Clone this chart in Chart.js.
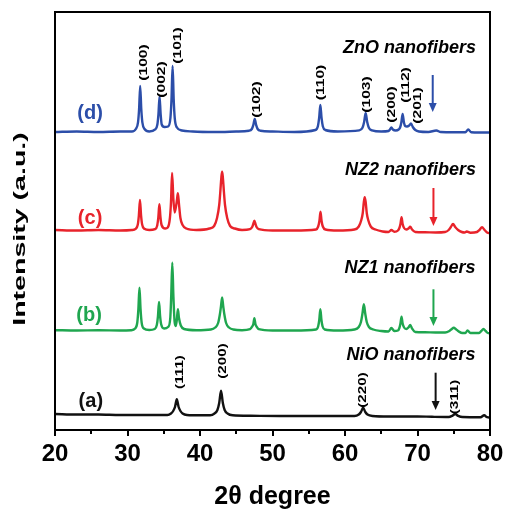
<!DOCTYPE html>
<html><head><meta charset="utf-8">
<script src="https://cdn.jsdelivr.net/npm/chart.js@4"></script>
<style>html,body{margin:0;padding:0;background:#fff}canvas{display:block}</style>
</head><body>
<canvas id="c" width="505" height="509"></canvas>
<script>
// ---- data (2θ in degrees, intensity in a.u., curves offset vertically) ----
const xTickLabels = [20, 30, 40, 50, 60, 70, 80];
const sampleNames = ['ZnO nanofibers', 'NZ2 nanofibers', 'NZ1 nanofibers', 'NiO nanofibers'];
const sampleTags = ['(d)', '(c)', '(b)', '(a)'];
const znoPoints = [[20,298],[23,298.5],[26,298],[29,298.5],[30.6,298.5],[31.15,301],[31.45,307.6],[31.6,321],[31.75,344],[31.9,321],[32.05,307.6],[32.35,301],[33.0,298.5],[33.82,300.6],[34.12,305.5],[34.27,316],[34.42,333.5],[34.57,316],[34.72,305.5],[35.1,303],[35.6,303.5],[35.92,312],[36.07,331],[36.22,364],[36.37,331],[36.52,311.6],[36.82,302.5],[37.5,299.5],[39,298.5],[42,298],[45,298.5],[46.75,299.3],[47.15,301],[47.35,304.8],[47.55,311],[47.75,304.8],[47.95,301],[48.35,299.3],[50,298.5],[53,298],[55.92,300],[56.26,303.8],[56.43,311.8],[56.6,325],[56.77,311.8],[56.94,303.8],[57.28,300],[59,298.5],[61.97,299.6],[62.41,302.2],[62.63,307.8],[62.85,317],[63.07,307.8],[63.29,302.2],[63.73,299.6],[65,298.5],[66.0,299],[66.2,300.5],[66.4,302.5],[66.6,300.5],[67.0,299.5],[67.4,300.5],[67.6,302.5],[67.77,307.5],[67.95,316],[68.13,307.5],[68.3,304],[68.55,303.5],[68.85,304.5],[69.1,306.5],[69.35,303],[69.7,300],[70.2,298.5],[71.5,298],[72.6,299.5],[73.2,298],[75,297.8],[76.6,297.8],[77.0,300.5],[77.4,297.8],[78.5,297.5],[80,297.5]];
const nz2Points = [[20,200],[23,199.5],[26,200],[29,199.5],[30.6,200],[31.12,201.2],[31.42,205.5],[31.57,214.7],[31.72,230],[31.87,214.7],[32.02,205.5],[32.32,201.2],[33.0,200],[33.8,200.9],[34.1,204.6],[34.25,212.5],[34.4,225.7],[34.55,212.5],[34.7,205],[35.2,201.5],[35.55,202.5],[35.85,212],[36.0,228],[36.15,257],[36.32,232],[36.5,217.5],[36.7,224],[36.82,230],[36.95,236.7],[37.1,226],[37.3,212],[37.6,205],[38.1,201.5],[39.5,200],[41.3,201.5],[41.95,204],[42.35,212],[42.65,225],[42.8,238],[42.95,253],[43.05,258.3],[43.15,253],[43.3,238],[43.45,225],[43.75,212],[44.15,204],[44.8,201.5],[45.8,200],[46.9,200.8],[47.2,203],[47.35,206],[47.5,209.3],[47.65,206],[47.8,203],[48.1,200.8],[50,199.5],[53,199.5],[56.0,200.5],[56.3,203.5],[56.47,209],[56.62,218.3],[56.77,209],[56.94,203.5],[57.3,200.5],[59,199.5],[61.3,200.5],[61.9,203.5],[62.25,210],[62.45,217],[62.6,228],[62.72,232.7],[62.85,228],[63.0,217],[63.2,210],[63.55,203.5],[64.2,200.5],[65.2,198.5],[66.0,198],[66.4,200],[66.8,198.3],[67.3,199.5],[67.5,202],[67.65,206],[67.8,212.7],[67.95,206],[68.15,202],[68.45,200.5],[68.75,201.5],[69.0,203.3],[69.25,200.5],[69.7,198],[71,197.8],[72.5,197.5],[73.8,198],[74.3,200],[74.6,203],[74.9,206],[75.2,203],[75.6,200],[76.1,198],[76.5,197.5],[76.8,198.5],[77.3,197.3],[78.2,198],[78.55,200],[78.9,202.7],[79.25,200],[79.6,197.5],[80,196.7]];
const nz1Points = [[20,99.8],[23,99.5],[26,99.8],[29,99.5],[30.5,99.8],[31.05,101.5],[31.35,107.5],[31.5,120.8],[31.65,142.2],[31.8,120.8],[31.95,107.5],[32.25,101.5],[33.0,100],[33.75,101],[34.05,105.2],[34.2,113.7],[34.35,128],[34.5,113.7],[34.65,105.5],[35.05,101.5],[35.6,103],[35.9,112],[36.03,134],[36.18,167.3],[36.33,134],[36.5,108],[36.65,104],[36.8,110],[36.95,120.7],[37.1,112],[37.35,104.5],[37.8,101],[39.5,99.8],[41.5,100.5],[42.1,102.5],[42.5,107],[42.75,116],[42.9,124],[43.05,132.5],[43.2,124],[43.35,116],[43.6,107],[44.0,102.5],[44.6,100.5],[45.8,99.8],[46.9,100.8],[47.2,103.5],[47.35,105.7],[47.5,111.7],[47.65,105.7],[47.8,103.5],[48.1,100.8],[50,99.5],[53,99.5],[56.0,100.5],[56.3,103.7],[56.45,110],[56.6,120.7],[56.75,110],[56.9,103.7],[57.2,100.5],[59,99.5],[61.3,100.5],[61.9,103],[62.2,108],[62.4,116],[62.6,125.7],[62.8,116],[63.0,108],[63.3,103],[63.9,100.5],[65,99],[66.0,98.5],[66.4,102],[66.8,99],[67.3,99.5],[67.5,102],[67.65,106.5],[67.8,113.3],[67.95,106.5],[68.15,102.5],[68.45,101],[68.75,102.5],[69.0,105],[69.25,101.5],[69.7,98],[71,97.8],[72.5,97.5],[73.8,97.5],[74.4,99],[74.7,100.8],[75.0,102.3],[75.3,100.8],[75.7,98.5],[76.2,97],[76.6,97],[76.9,99.5],[77.3,97],[78.5,97],[78.8,99],[79.1,101],[79.4,99],[79.7,97],[80,96.7]];
const nioPoints = [[20,16],[23,15.5],[26,15.5],[29,15],[32,15],[35.5,15],[36.0,16.5],[36.3,19],[36.55,23],[36.8,30.7],[37.05,23],[37.3,19],[37.6,16.5],[38.2,15],[40,14.7],[41.4,14.7],[42.0,16.5],[42.4,20],[42.65,27],[42.9,39.3],[43.15,27],[43.4,20],[43.8,16.5],[44.5,14.7],[47,14.2],[51,14],[55,14],[58,14],[61.3,14],[61.9,15.5],[62.2,18],[62.5,22.3],[62.8,18],[63.1,15.5],[63.8,14],[66,13.5],[70,13.5],[72,13.2],[74.3,13],[74.8,14.2],[75.2,16],[75.6,14.2],[76.2,13],[78.7,12.8],[79.2,14.7],[79.6,12.8],[80,12.5]];
const znoPeakLabels = ['(100)','(002)','(101)','(102)','(110)','(103)','(200)','(112)','(201)'];
const nioPeakLabels = ['(111)','(200)','(220)','(311)'];

// ---- annotation placement (data coordinates) ----
const colors = ['#2c4ea9', '#e8232b', '#1fa64f', '#111111'];
const znoLabelPos = [[32.3,367.5],[34.72,350.5],[36.91,384.5],[47.79,330.5],[56.73,347.5],[63.04,335.5],[66.41,325.5],[68.39,345],[70.09,324.5]];
const nioLabelPos = [[37.28,58],[43.13,69],[62.49,40],[75.16,33]];
const tagPos = [[24.84,317],[24.84,211.7],[24.7,115],[24.94,28.3]];
const namePos = [[78.07,382],[78.07,260],[78.0,161.7],[78.0,75]];
const arrowPos = [[72.1,355,318],[72.2,242,204],[72.2,140.7,104],[72.5,57.3,20]];

const toXY = pts => pts.map(p => ({x: p[0], y: p[1]}));
const FONT = '"Liberation Sans", Arial, Helvetica, sans-serif';

const decor = {
  id: 'decor',
  afterDraw(chart) {
    const {ctx, chartArea: a, scales: {x, y}} = chart;
    ctx.save();
    ctx.strokeStyle = '#000'; ctx.lineWidth = 2;
    ctx.strokeRect(a.left, a.top, a.right - a.left, a.bottom - a.top);
    for (let v = 20; v <= 80; v += 5) {
      const px = Math.round(x.getPixelForValue(v));
      const len = v % 10 === 0 ? 6 : 4;
      ctx.beginPath(); ctx.moveTo(px, a.bottom); ctx.lineTo(px, a.bottom + len); ctx.stroke();
    }
    const vtext = (t, px, py, font, stretch, color) => {
      ctx.save(); ctx.translate(px, py); ctx.rotate(-Math.PI / 2); ctx.scale(stretch, 1);
      ctx.font = font; ctx.fillStyle = color; ctx.textAlign = 'center'; ctx.textBaseline = 'middle';
      ctx.fillText(t, 0, 0); ctx.restore();
    };
    vtext('Intensity (a.u.)', 20, 229, 'bold 17px ' + FONT, 1.68, '#000');
    znoPeakLabels.forEach((t, i) => vtext(t, x.getPixelForValue(znoLabelPos[i][0]), y.getPixelForValue(znoLabelPos[i][1]), 'bold 11px ' + FONT, 1.42, '#000'));
    nioPeakLabels.forEach((t, i) => vtext(t, x.getPixelForValue(nioLabelPos[i][0]), y.getPixelForValue(nioLabelPos[i][1]), 'bold 11px ' + FONT, 1.38, '#000'));
    ctx.textAlign = 'center'; ctx.textBaseline = 'middle';
    sampleTags.forEach((t, i) => {
      ctx.font = 'bold 20px ' + FONT; ctx.fillStyle = colors[i];
      ctx.fillText(t, x.getPixelForValue(tagPos[i][0]), y.getPixelForValue(tagPos[i][1]));
    });
    ctx.textAlign = 'right';
    sampleNames.forEach((t, i) => {
      ctx.font = 'italic bold 18px ' + FONT; ctx.fillStyle = '#000';
      ctx.fillText(t, x.getPixelForValue(namePos[i][0]), y.getPixelForValue(namePos[i][1]));
    });
    arrowPos.forEach((ar, i) => {
      const px = x.getPixelForValue(ar[0]), y0 = y.getPixelForValue(ar[1]), y1 = y.getPixelForValue(ar[2]);
      ctx.strokeStyle = colors[i]; ctx.fillStyle = colors[i]; ctx.lineWidth = 2;
      ctx.beginPath(); ctx.moveTo(px, y0); ctx.lineTo(px, y1 - 7); ctx.stroke();
      ctx.beginPath(); ctx.moveTo(px - 4, y1 - 9); ctx.lineTo(px + 4, y1 - 9); ctx.lineTo(px, y1); ctx.closePath(); ctx.fill();
    });
    ctx.restore();
  }
};

const mk = (pts, i) => ({
  data: toXY(pts), borderColor: colors[i], borderWidth: 2.4, pointRadius: 0,
  cubicInterpolationMode: 'monotone', fill: false
});

new Chart(document.getElementById('c'), {
  type: 'line',
  data: { datasets: [mk(znoPoints, 0), mk(nz2Points, 1), mk(nz1Points, 2), mk(nioPoints, 3)] },
  options: {
    responsive: false, animation: false, devicePixelRatio: 1,
    layout: { padding: { left: 55, top: 12, right: 15, bottom: 0 } },
    plugins: { legend: { display: false }, tooltip: { enabled: false } },
    scales: {
      x: {
        type: 'linear', min: 20, max: 80,
        afterFit: s => { s.height = 79; s.paddingLeft = 0; s.paddingRight = 0; },
        afterBuildTicks: s => { s.ticks = xTickLabels.map(v => ({value: v})); },
        ticks: { color: '#000', font: { family: FONT, size: 24, weight: 'bold' }, padding: 2, maxRotation: 0, autoSkip: false },
        grid: { display: false }, border: { display: false },
        title: { display: true, text: '2θ degree', color: '#000', font: { family: FONT, size: 25, weight: 'bold' }, padding: { top: 0, bottom: -3 } }
      },
      y: { display: false, min: 0, max: 418 }
    }
  },
  plugins: [decor]
});
</script>
</body></html>
